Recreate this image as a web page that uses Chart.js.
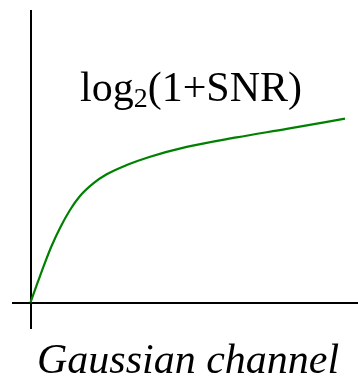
<!DOCTYPE html>
<html>
<head>
<meta charset="utf-8">
<script src="https://cdn.jsdelivr.net/npm/chart.js@4/dist/chart.umd.min.js"></script>
<style>
html,body{margin:0;padding:0;background:#fff;}
#wrap{width:358px;height:385px;}
</style>
</head>
<body>
<div id="wrap"><canvas id="c" width="358" height="385"></canvas></div>
<script>
// SNR (arbitrary units) and capacity (arbitrary units)
const snrValues = [0, 0.78, 1.45, 2.12, 2.95, 3.95, 4.95, 6.28, 7.62, 9.62, 11.88, 15.62, 20.62, 25.62, 31.45];
const capacityValues = [0, 2.18, 3.99, 5.67, 7.45, 9.25, 10.65, 11.91, 12.82, 13.74, 14.55, 15.56, 16.51, 17.36, 18.38];
const curveLabelMain = "log";
const curveLabelSub = "2";
const curveLabelRest = "(1+SNR)";
const captionText = "Gaussian channel";

const points = snrValues.map((x, i) => ({x: x, y: capacityValues[i]}));

const textPlugin = {
  id: 'sketchText',
  afterDraw(chart) {
    const ctx = chart.ctx;
    ctx.save();
    ctx.fillStyle = '#000';
    ctx.textBaseline = 'alphabetic';
    ctx.textAlign = 'left';
    let x = 80;
    ctx.font = '42px "Liberation Serif", "Times New Roman", serif';
    ctx.fillText(curveLabelMain, x, 101);
    x += ctx.measureText(curveLabelMain).width;
    ctx.font = '28px "Liberation Serif", "Times New Roman", serif';
    ctx.fillText(curveLabelSub, x, 107);
    x += ctx.measureText(curveLabelSub).width;
    ctx.font = '42px "Liberation Serif", "Times New Roman", serif';
    ctx.fillText(curveLabelRest, x, 101);
    ctx.font = 'italic 42px "Liberation Serif", "Times New Roman", serif';
    ctx.fillText(captionText, 37, 373);
    ctx.restore();
  }
};

const zeroOnly = (scale) => { scale.ticks = [{value: 0}]; };

new Chart(document.getElementById('c'), {
  type: 'line',
  data: {
    datasets: [{
      data: points,
      borderColor: '#008000',
      borderWidth: 2.2,
      pointRadius: 0,
      fill: false,
      cubicInterpolationMode: 'monotone'
    }]
  },
  options: {
    responsive: false,
    animation: false,
    events: [],
    layout: {padding: {left: 12, top: 10, right: 0, bottom: 56}},
    plugins: {legend: {display: false}, tooltip: {enabled: false}, title: {display: false}},
    scales: {
      x: {
        type: 'linear',
        min: -1.85,
        max: 32.75,
        afterBuildTicks: zeroOnly,
        ticks: {display: false},
        border: {display: false},
        grid: {color: '#000', lineWidth: 2, drawTicks: false}
      },
      y: {
        type: 'linear',
        min: -2.65,
        max: 29.25,
        afterBuildTicks: zeroOnly,
        ticks: {display: false},
        border: {display: false},
        grid: {color: '#000', lineWidth: 2, drawTicks: false}
      }
    }
  },
  plugins: [textPlugin]
});
</script>
</body>
</html>
